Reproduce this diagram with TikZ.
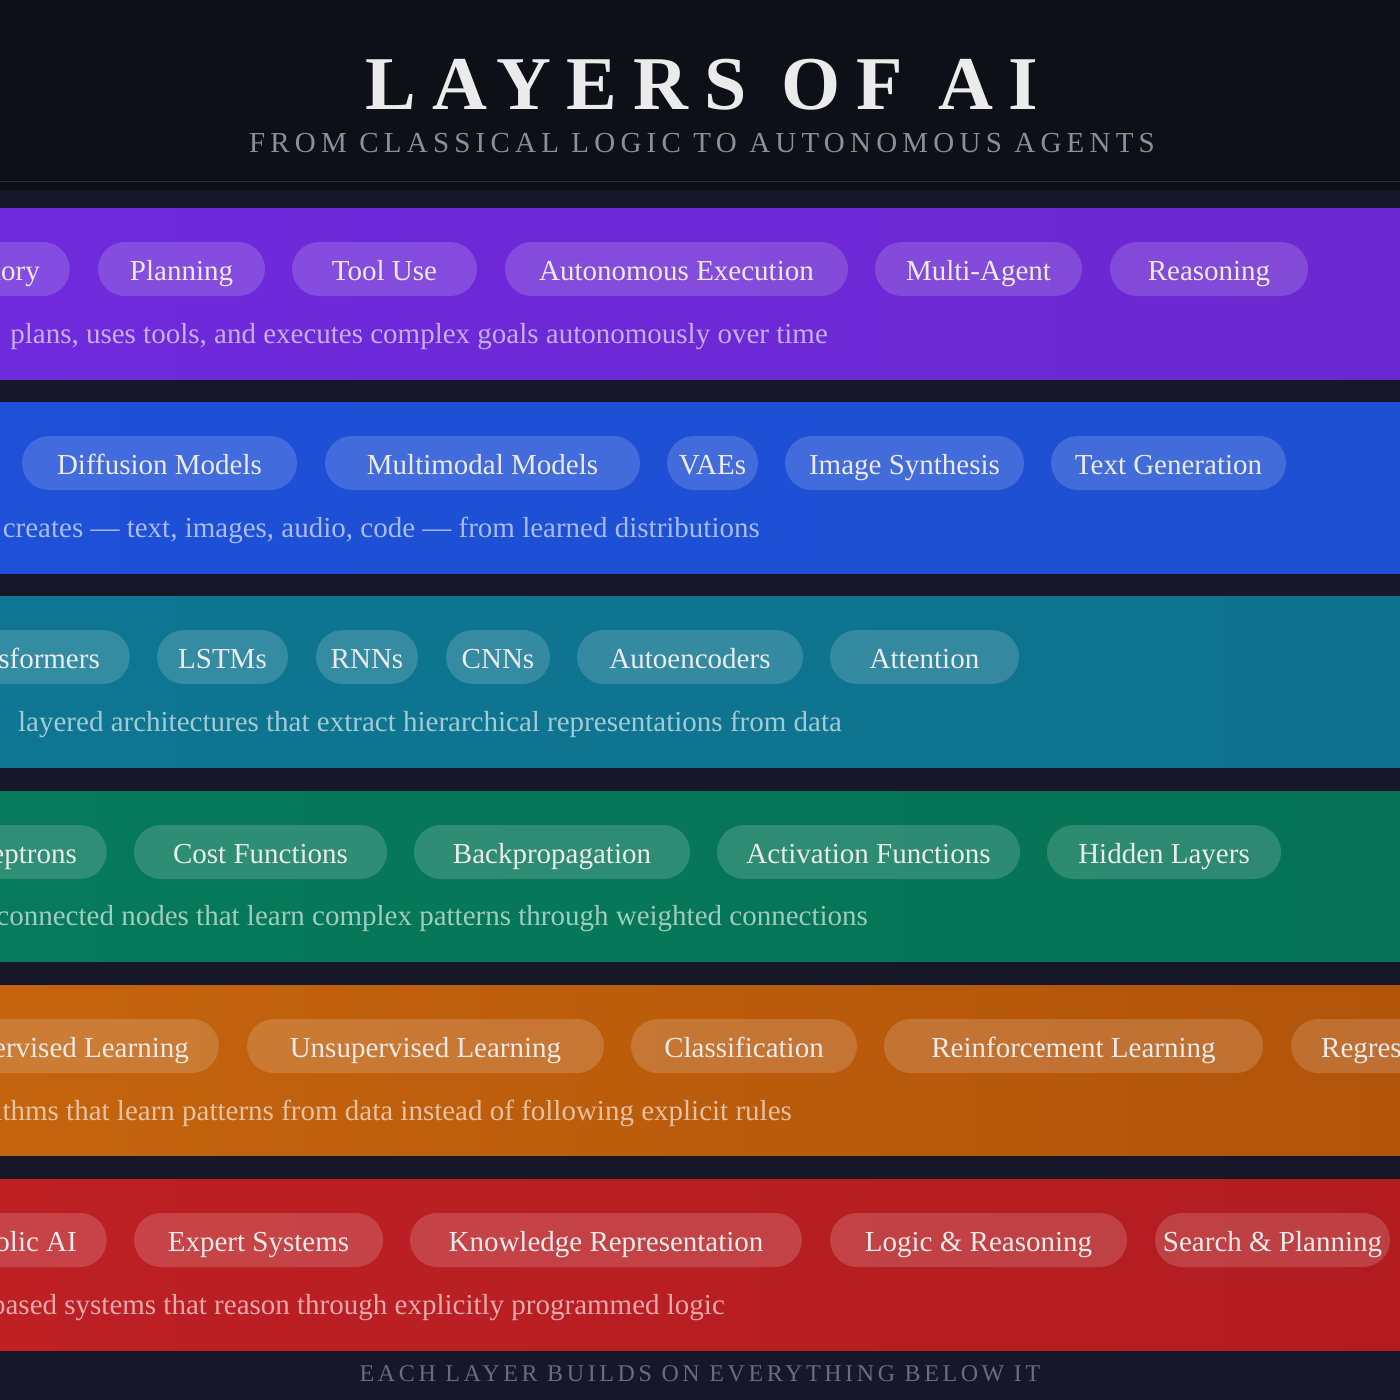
\documentclass[tikz,border=0pt]{standalone}
\usepackage{fontspec}
\setmainfont{Liberation Serif}
\newfontfamily\titlefont[LetterSpace=21]{Liberation Serif}
\newfontfamily\subfont[LetterSpace=18]{Liberation Serif}
\newfontfamily\footfont[LetterSpace=15]{Liberation Serif}
\begin{document}
\begin{tikzpicture}[x=1pt,y=-1pt,
  pill/.style={rounded corners=27pt,fill=white,fill opacity=0.16,text opacity=1,text=white!92!black,minimum height=54pt,inner xsep=0pt,text height=23pt,text depth=1pt,inner ysep=0pt,font=\fontsize{29}{32}\selectfont},
  pillc/.style={pill,inner xsep=30pt},
  desc/.style={anchor=base east,text=white,text opacity=0.62,font=\fontsize{29}{32}\selectfont,inner sep=0pt}]
\useasboundingbox (0,0) rectangle (1400,1400);
\fill[fill={rgb,255:red,13;green,16;blue,23}] (0,0) rectangle (1400,1400);
\fill[fill={rgb,255:red,22;green,23;blue,40}] (0,190) rectangle (1400,1400);
\draw[white,opacity=0.12] (0,181) -- (1400,181);
\node[font=\titlefont\bfseries\fontsize{76}{80}\selectfont,text={rgb,255:red,235;green,235;blue,235}] (title) at (702,85) {LAYERS OF AI};
\node[font=\subfont\fontsize{29}{32}\selectfont,text={rgb,255:red,140;green,143;blue,152}] (sub) at (702,143) {FROM CLASSICAL LOGIC TO AUTONOMOUS AGENTS};
\node[font=\footfont\fontsize{24}{28}\selectfont,text={rgb,255:red,105;green,108;blue,125}] (foot) at (700,1374) {EACH LAYER BUILDS ON EVERYTHING BELOW IT};
% bands
\shade[left color={rgb,255:red,110;green,42;blue,220},right color={rgb,255:red,108;green,40;blue,208}] (0,208) rectangle (1400,379);
\shade[left color={rgb,255:red,30;green,80;blue,216},right color={rgb,255:red,30;green,80;blue,210}] (0,402) rectangle (1400,573);
\shade[left color={rgb,255:red,14;green,118;blue,146},right color={rgb,255:red,14;green,114;blue,142}] (0,596) rectangle (1400,767);
\shade[left color={rgb,255:red,6;green,122;blue,90},right color={rgb,255:red,5;green,115;blue,84}] (0,791) rectangle (1400,961);
\shade[left color={rgb,255:red,196;green,100;blue,14},right color={rgb,255:red,178;green,84;blue,10}] (0,985) rectangle (1400,1155);
\shade[left color={rgb,255:red,190;green,32;blue,36},right color={rgb,255:red,178;green,28;blue,32}] (0,1179) rectangle (1400,1350);
\newcommand\pl[4]{\node[pill,minimum width={#3-#2}] (#1) at ({(#2+#3)/2},\py) {#4};}
% row 1
\def\py{269}
\node[pillc,anchor=east] (r1a) at (70,\py) {Memory};
\pl{r1b}{98}{265}{Planning}\pl{r1c}{292}{477}{Tool Use}\pl{r1d}{505}{848}{Autonomous Execution}
\pl{r1e}{875}{1082}{Multi-Agent}\pl{r1f}{1110}{1308}{Reasoning}
\node[desc] (d1) at (828,343) {plans, uses tools, and executes complex goals autonomously over time};
% row 2
\def\py{463}
\pl{r2a}{22}{297}{Diffusion Models}\pl{r2b}{325}{640}{Multimodal Models}\pl{r2c}{667}{758}{VAEs}
\pl{r2d}{785}{1024}{Image Synthesis}\pl{r2e}{1051}{1286}{Text Generation}
\node[desc] (d2) at (760,537) {creates — text, images, audio, code — from learned distributions};
% row 3
\def\py{657}
\node[pillc,anchor=east] (r3a) at (130,\py) {Transformers};
\pl{r3b}{157}{288}{LSTMs}\pl{r3c}{316}{418}{RNNs}\pl{r3d}{446}{550}{CNNs}
\pl{r3e}{577}{803}{Autoencoders}\pl{r3f}{830}{1019}{Attention}
\node[desc] (d3) at (842,731) {layered architectures that extract hierarchical representations from data};
% row 4
\def\py{852}
\node[pillc,anchor=east] (r4a) at (107,\py) {Perceptrons};
\pl{r4b}{134}{387}{Cost Functions}\pl{r4c}{414}{690}{Backpropagation}
\pl{r4d}{717}{1020}{Activation Functions}\pl{r4e}{1047}{1281}{Hidden Layers}
\node[desc] (d4) at (868,925) {interconnected nodes that learn complex patterns through weighted connections};
% row 5
\def\py{1046}
\node[pillc,anchor=east] (r5a) at (219,\py) {Supervised Learning};
\pl{r5b}{247}{604}{Unsupervised Learning}\pl{r5c}{631}{857}{Classification}
\pl{r5d}{884}{1263}{Reinforcement Learning}
\node[pillc,anchor=west] (r5e) at (1291,\py) {Regression};
\node[desc] (d5) at (792,1120) {algorithms that learn patterns from data instead of following explicit rules};
% row 6
\def\py{1240}
\node[pillc,anchor=east] (r6a) at (107,\py) {Symbolic AI};
\pl{r6b}{134}{383}{Expert Systems}\pl{r6c}{410}{802}{Knowledge Representation}
\pl{r6d}{830}{1127}{Logic \& Reasoning}\pl{r6e}{1155}{1390}{Search \& Planning}
\node[desc] (d6) at (725,1314) {based systems that reason through explicitly programmed logic};
\end{tikzpicture}
\end{document}
